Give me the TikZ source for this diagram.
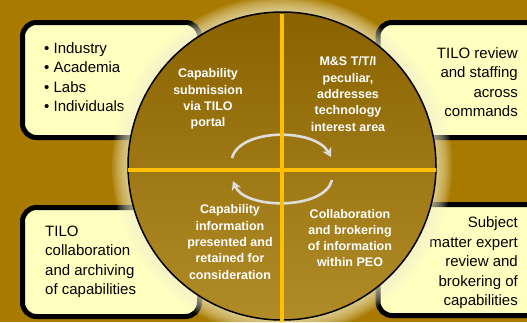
\documentclass[tikz,border=0pt]{standalone}
\usepackage{fontspec}
\setmainfont{Liberation Sans}
\usepackage{tikz}
\usetikzlibrary{arrows.meta, calc, positioning}
\definecolor{bgc}{RGB}{168,122,0}
\definecolor{boxfill}{RGB}{255,255,192}
\definecolor{halo}{RGB}{246,242,205}
\definecolor{hubtop}{RGB}{138,99,0}
\definecolor{hubmid}{RGB}{134,96,0}
\definecolor{hubbot}{RGB}{176,140,40}
\definecolor{linegold}{RGB}{255,192,0}
\definecolor{arcgray}{RGB}{222,222,222}
\tikzset{%
    infobox/.style={%
        rectangle,
        fill=boxfill,
        draw=black, line width=5pt,
        rounded corners=14pt,
    },
    boxtext/.style={%
        font=\fontsize{15}{19.5}\selectfont,
        text=black,
        inner sep=0pt,
    },
    phase/.style={%
        font=\bfseries\fontsize{12.5}{16.3}\selectfont,
        text=white,
        align=center,
        inner sep=0pt,
    },
    hub/.style={%
        circle,
        minimum size=308pt,
        inner sep=0pt,
        draw=black, line width=1.5pt,
        top color=hubtop,
        middle color=hubmid,
        bottom color=hubbot,
    },
    divider/.style={%
        draw=linegold,
        line width=4pt,
    },
    flowarc/.style={%
        -{Stealth[length=9pt, width=10pt]},
        draw=arcgray,
        line width=2.6pt,
    },
}

\begin{document}
\begin{tikzpicture}[x=1pt, y=-1pt]
	\useasboundingbox (0,0) rectangle (527,322);
	\fill[bgc] (0,0) rectangle (527,322);
	\clip (0,0) rectangle (527,322);

	\node [infobox, minimum width=177pt, minimum height=115pt] at (111,80) (box_tl) {};
	\node [infobox, minimum width=177pt, minimum height=109pt] at (111,262) (box_bl) {};
	\node [infobox, minimum width=182pt, minimum height=115pt] at (469,80) (box_tr) {};
	\node [infobox, minimum width=182pt, minimum height=111pt] at (469,260) (box_br) {};

	\node [boxtext, align=left, anchor=west] at (44,77) (sources)
		{\textbullet~Industry\\ \textbullet~Academia\\ \textbullet~Labs\\ \textbullet~Individuals};
	\node [boxtext, align=right, anchor=east] at (518,82) (review)
		{TILO review\\ and staffing\\ across\\ commands};
	\node [boxtext, align=left, anchor=west] at (45,262) (archive)
		{TILO\\ collaboration\\ and archiving\\ of capabilities};
	\node [boxtext, align=right, anchor=east] at (518,263) (brokering)
		{Subject\\ matter expert\\ review and\\ brokering of\\ capabilities};

	\foreach \r in {170,168,...,156}
		\fill[halo, opacity=0.12] (282,166) circle[radius=\r pt];

	\node [hub] at (282,166) (hub) {};

	\draw[flowarc] (232,158) .. controls (240,128) and (315,128) .. (331,157);
	\draw[flowarc] (332,180) .. controls (325,210) and (245,210) .. (233,181);

	\coordinate (v_end) at (282,322);
	\coordinate (h_left) at (128,170);
	\coordinate (h_right) at (436,170);
	\draw[divider] ($(hub.north)+(0,3)$) -- (v_end);
	\draw[divider] (h_left) -- (h_right);

	\node [phase] at (208,99) (submit) {Capability\\ submission\\ via TILO\\ portal};
	\node [phase] at (348,94) (interest) {M\&S T/T/I\\ peculiar,\\ addresses\\ technology\\ interest area};
	\node [phase] at (350,238) (collab) {Collaboration\\ and brokering\\ of information\\ within PEO};
	\node [phase] at (230,242) (retain) {Capability\\ information\\ presented and\\ retained for\\ consideration};
\end{tikzpicture}
\end{document}
